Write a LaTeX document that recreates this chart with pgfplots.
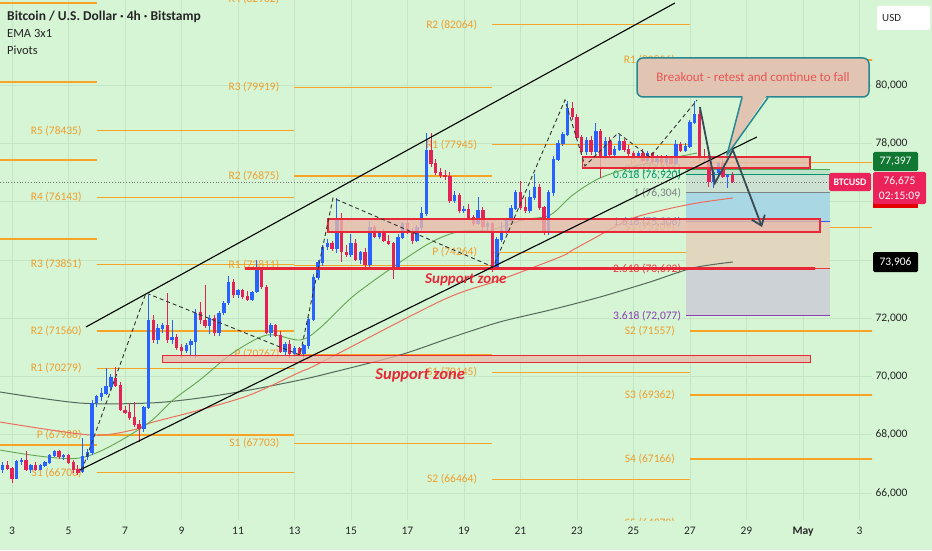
\documentclass[border=0pt]{standalone}
\usepackage{fontspec}
\setmainfont{Carlito}
\usepackage{pgfplots}
\pgfplotsset{compat=1.18}
\usepackage{pgfplotstable}
\usetikzlibrary{arrows.meta}
\definecolor{bg}{RGB}{213,245,213}
\definecolor{gridc}{RGB}{196,230,196}
\definecolor{cup}{RGB}{41,98,255}
\definecolor{cdn}{RGB}{228,34,88}
\definecolor{piv}{RGB}{246,163,38}
\definecolor{pivtxt}{RGB}{240,158,45}
\definecolor{emag}{RGB}{100,165,80}
\definecolor{emar}{RGB}{236,110,95}
\definecolor{emak}{RGB}{85,105,90}
\definecolor{zonered}{RGB}{232,40,55}
\definecolor{zonefill}{RGB}{232,185,170}
\definecolor{callfill}{RGB}{226,196,178}
\definecolor{callbrd}{RGB}{40,135,145}
\definecolor{calltxt}{RGB}{232,85,85}
\definecolor{arrowc}{RGB}{55,75,85}
\definecolor{fibg}{RGB}{70,170,90}
\definecolor{fibt}{RGB}{0,150,110}
\definecolor{fibgr}{RGB}{125,132,132}
\definecolor{fibb}{RGB}{60,90,230}
\definecolor{fibr}{RGB}{235,60,60}
\definecolor{fibp}{RGB}{140,60,180}
\definecolor{tagpink}{RGB}{235,35,90}
\definecolor{taggreen}{RGB}{16,120,50}

\newcommand{\pivfont}{\fontsize{11.5}{13}\selectfont}
\newcommand{\piv}[4]{%
 \addplot[piv, line width=1.2pt, forget plot] coordinates {(#1,#3) (#2,#3)};
 \node[anchor=east, text=pivtxt, font=\pivfont, inner sep=0pt, xshift=-15pt] at (axis cs:#1,#3) {#4};
}
\newcommand{\fibl}[3]{%
 \addplot[#2, line width=1pt, forget plot] coordinates {(146.2,#1) (176.7,#1)};
 \node[anchor=east, text=#2, font=\pivfont, inner sep=0pt, xshift=-5pt] at (axis cs:146.2,#1) {#3};
}

\pgfplotstableread{
n o h l c
1 66800 67050 66700 66960
4 66500 67130 66480 67080
5 67080 67200 66950 67130
7 66800 67000 66700 66950
9 66820 66980 66780 66930
10 66930 67100 66880 67060
11 67060 67350 67000 67300
12 67300 67480 67250 67420
14 67250 67350 67150 67300
18 66720 67900 66700 67240
19 67240 67500 67150 67380
20 67380 69200 67300 69090
21 69090 69350 68950 69300
22 69300 69600 69150 69430
23 69430 70300 69350 69650
24 69650 70100 69550 69950
31 68200 69000 68100 68950
32 68950 72800 68900 71940
34 71250 71800 71100 71660
35 71660 71850 71500 71760
37 71250 71940 71100 71350
40 70900 71150 70800 71080
41 71080 71300 70700 71200
42 71200 72300 70650 72180
45 71760 72100 71450 72000
47 71490 72250 71400 72180
48 72180 72600 72100 72520
49 72520 73450 72450 73240
51 72800 73000 72700 72950
54 72650 72950 72600 72900
55 72900 73990 72850 73650
58 71500 71850 71350 71750
61 70850 71200 70700 71100
63 70800 71050 70680 70950
65 70800 71100 70650 71050
66 71050 72050 70950 71950
67 71950 73500 71900 73400
68 73400 74000 73300 73900
69 73900 74500 73800 74440
70 74440 74700 74350 74550
72 74400 76120 74250 75370
75 74200 74900 74100 74550
77 74000 74300 73850 74250
79 73850 75350 73750 75100
81 74800 75000 74700 74900
85 73750 74900 73700 74780
86 74780 75300 74700 75250
89 74650 75200 74600 75100
90 75100 75800 75000 75600
91 75600 78350 75500 77750
97 76050 76350 75950 76200
99 75700 75850 75600 75720
102 75250 76150 75200 75700
104 75150 75350 75000 75250
106 73750 74800 73650 74700
107 74700 75300 74600 75000
108 75000 75450 74900 75350
109 75350 75900 75250 75750
110 75750 76400 75700 76300
113 75700 76400 75600 76150
114 76150 76950 76050 76500
117 74950 76400 74850 76300
118 76300 77550 76200 77450
119 77450 78100 77400 78000
120 78000 78400 77900 78300
121 78300 79450 78250 79200
125 77700 78200 77600 78100
127 77700 78700 77600 78400
129 77550 78200 77450 78050
131 77600 77900 77550 77800
132 77800 78300 77750 78050
136 77550 77750 77450 77650
138 77420 77750 77350 77650
140 77380 77600 77300 77550
142 77350 77600 77250 77500
144 77300 78100 77250 77950
146 77750 78000 77700 77900
147 77900 78800 77850 78700
148 78700 79450 78650 79000
152 76700 77100 76450 77000
153 77000 77350 76900 77300
155 76850 76950 76450 76900
}\upc

\pgfplotstableread{
n o h l c
2 66960 67100 66780 66850
3 66850 66900 66340 66500
6 67130 67430 66750 66800
8 66950 67050 66750 66820
13 67420 67480 67180 67250
15 67300 67350 67000 67050
16 67050 67150 66700 66800
17 66800 66950 66620 66720
25 69950 70330 69650 69700
26 69700 69800 68800 68850
27 68850 69000 68700 68750
28 68750 69100 68500 68600
29 68600 69120 68250 68350
30 68350 68500 67750 68200
33 71940 72100 71150 71250
36 71760 72860 71150 71250
38 71350 71450 70900 70980
39 70980 71100 70630 70900
43 72180 72550 71800 71940
44 71940 73140 71650 71760
46 72000 72100 71400 71490
50 73240 73350 72700 72800
52 72950 73000 72650 72730
53 72730 72950 72600 72650
56 73650 73700 73000 73070
57 73070 73150 71450 71500
59 71750 71800 71350 71420
60 71420 71550 70800 70850
62 71100 71250 70650 70800
64 70950 71000 70700 70800
71 74550 74650 74300 74400
73 75370 75600 73930 74270
74 74270 74500 74100 74200
76 74550 74700 73950 74000
78 74250 74400 73700 73850
80 75100 75200 74750 74800
82 74900 75050 74600 74650
83 74650 74850 74500 74550
84 74550 74600 73350 73750
87 75250 75400 74900 74950
88 74950 75100 74550 74650
92 77750 78350 77200 77300
93 77300 77450 76900 77000
94 77000 77150 76800 76900
95 76900 77100 76750 76850
96 76850 77000 75950 76050
98 76200 76300 75600 75700
100 75720 75900 75400 75450
101 75450 75550 75150 75250
103 75700 75800 75000 75150
105 75250 75300 73600 73750
111 76300 76700 75700 75800
112 75800 76150 75600 75700
115 76500 76600 75700 75800
116 75800 75850 74850 74950
122 79200 79400 78800 78900
123 78900 79000 78150 78200
124 78200 78300 77600 77700
126 78100 78250 77600 77700
128 78400 78500 76800 77550
130 78050 78200 77500 77600
133 78050 78150 77700 77800
134 77800 77950 77550 77650
135 77650 77750 77450 77550
137 77650 77800 77350 77420
139 77650 77700 77300 77380
141 77550 77600 77250 77350
143 77500 77550 77250 77300
145 77950 78050 77700 77750
149 79000 79150 77400 77550
150 77550 77800 77350 77500
151 77500 77600 76500 76700
154 77300 77450 76800 76850
156 76900 77000 76650 76675
}\dnc

\begin{document}
\begin{tikzpicture}
\path[use as bounding box, fill=bg] (0,-30pt) rectangle (932pt,520pt);
\begin{axis}[
  at={(0,0)}, anchor=south west,
  scale only axis, width=872pt, height=520pt,
  xmin=0.45, xmax=185.66, ymin=65075, ymax=82916,
  axis line style={draw=none},
  tick style={draw=none},
  xtick={3,15,...,183},
  xticklabels={3,5,7,9,11,13,15,17,19,21,23,25,27,29,\textbf{May},3},
  ytick={66000,68000,...,80000},
  yticklabels={{66,000},{68,000},{70,000},{72,000},{74,000},{76,000},{78,000},{80,000}},
  yticklabel pos=right,
  grid=major, major grid style={gridc, line width=0.6pt},
  ticklabel style={font=\fontsize{11.5}{13}\selectfont, text=black!85},
  xticklabel style={yshift=-4pt},
  clip=true,
]
% ---- pivot levels ----
\piv{0.45}{21}{82813}{}
\piv{0.45}{21}{80103}{}
\piv{0.45}{21}{77427}{}
\piv{0.45}{21}{74716}{}
\piv{0.45}{21}{67649}{}
\piv{21}{63}{78435}{R5 (78435)}
\piv{21}{63}{76143}{R4 (76143)}
\piv{21}{63}{73851}{R3 (73851)}
\piv{21}{63}{71560}{R2 (71560)}
\piv{21}{63}{70279}{R1 (70279)}
\piv{21}{63}{67988}{P (67988)}
\piv{21}{63}{66700}{S1 (66700)}
\piv{63}{105}{82962}{R4 (82962)}
\piv{63}{105}{79919}{R3 (79919)}
\piv{63}{105}{76875}{R2 (76875)}
\piv{63}{105}{73811}{R1 (73811)}
\piv{63}{105}{70767}{P (70767)}
\piv{63}{105}{67703}{S1 (67703)}
\piv{105}{147}{82064}{R2 (82064)}
\piv{105}{147}{77945}{R1 (77945)}
\piv{105}{147}{74264}{P (74264)}
\piv{105}{147}{70145}{S1 (70145)}
\piv{105}{147}{66464}{S2 (66464)}
\piv{147}{189}{80856}{R1 (80856)}
\piv{147}{189}{77332}{P (77332)}
\piv{147}{189}{75109}{S1 (75109)}
\piv{147}{189}{71557}{S2 (71557)}
\piv{147}{189}{69362}{S3 (69362)}
\piv{147}{189}{67166}{S4 (67166)}
\piv{147}{189}{64970}{S5 (64970)}
% ---- fib extension shading ----
\fill[fill={rgb,255:red,190;green,225;blue,200}] (axis cs:146.2,77111) rectangle (axis cs:176.7,76920);
\fill[fill={rgb,255:red,205;green,225;blue,210}] (axis cs:146.2,76920) rectangle (axis cs:176.7,76304);
\fill[fill={rgb,255:red,170;green,215;blue,228}] (axis cs:146.2,76304) rectangle (axis cs:176.7,75306);
\fill[fill={rgb,255:red,225;green,215;blue,190}] (axis cs:146.2,75306) rectangle (axis cs:176.7,73692);
\fill[fill={rgb,255:red,205;green,210;blue,215}] (axis cs:146.2,73692) rectangle (axis cs:176.7,72077);
\fibl{77111}{fibg}{0.5 (77,111)}
\fibl{76920}{fibt}{0.618 (76,920)}
\fibl{76304}{fibgr}{1 (76,304)}
\fibl{75306}{fibb}{1.618 (75,306)}
\fibl{73692}{fibr}{2.618 (73,692)}
\fibl{72077}{fibp}{3.618 (72,077)}
% ---- current price line ----
\addplot[black!55, dotted, line width=0.8pt, forget plot] coordinates {(0.45,76675) (176.7,76675)};
% ---- EMAs ----
\addplot[emak, line width=1pt, smooth, forget plot] coordinates {(0.45,69467) (17.4,69089) (32.3,69089) (42.9,69261) (53.5,69536) (64.2,69879) (70.5,70119) (85.4,70736) (96.0,71320) (106.6,71869) (117.3,72280) (127.9,72726) (138.5,73241) (147.6,73722) (156.1,73927)};
\addplot[emar, line width=1pt, smooth, forget plot] coordinates {(0.45,68437) (19.6,67991) (28.7,68163) (32.3,68403) (42.9,68849) (53.5,69364) (64.2,70153) (68.4,70462) (94.5,72623) (106.6,73310) (119.4,74100) (122.1,74339) (127.3,74800) (134.3,75400) (141.3,75711) (148.5,75951) (156.1,76123)};
\addplot[emag, line width=0.9pt, smooth, forget plot] coordinates {(0.45,67477) (17.4,67202) (30.8,68266) (37.2,69192) (42.9,69879) (49.9,70805) (57.2,71423) (64.2,71251) (68.4,71663) (76.3,72863) (90.3,74441) (97.5,74956) (104.5,75025) (111.5,75368) (117.3,75539) (122.1,76226) (127.9,76809) (136.4,77255) (148.5,77667)};
% ---- candles: wicks ----
\addplot[draw=none, mark=none, forget plot, error bars/.cd, y dir=both, y explicit, error mark=none, error bar style={draw=cup, line width=1pt}]
  table[x=n, y expr={(\thisrow{h}+\thisrow{l})/2}, y error plus expr={(\thisrow{h}-\thisrow{l})/2}, y error minus expr={(\thisrow{h}-\thisrow{l})/2}] {\upc};
\addplot[draw=none, mark=none, forget plot, error bars/.cd, y dir=both, y explicit, error mark=none, error bar style={draw=cdn, line width=1pt}]
  table[x=n, y expr={(\thisrow{h}+\thisrow{l})/2}, y error plus expr={(\thisrow{h}-\thisrow{l})/2}, y error minus expr={(\thisrow{h}-\thisrow{l})/2}] {\dnc};
% ---- candles: bodies ----
\addplot[draw=none, mark=none, forget plot, error bars/.cd, y dir=both, y explicit, error mark=none, error bar style={draw=cup, line width=3.4pt}]
  table[x=n, y expr={(\thisrow{o}+\thisrow{c})/2}, y error plus expr={(\thisrow{c}-\thisrow{o})/2+15}, y error minus expr={(\thisrow{c}-\thisrow{o})/2+15}] {\upc};
\addplot[draw=none, mark=none, forget plot, error bars/.cd, y dir=both, y explicit, error mark=none, error bar style={draw=cdn, line width=3.4pt}]
  table[x=n, y expr={(\thisrow{o}+\thisrow{c})/2}, y error plus expr={(\thisrow{o}-\thisrow{c})/2+15}, y error minus expr={(\thisrow{o}-\thisrow{c})/2+15}] {\dnc};
% ---- zones ----
\draw[zonered, line width=1.3pt, fill=zonefill, fill opacity=0.75] (axis cs:34.9,70720) rectangle (axis cs:172.6,70490);
\draw[zonered, line width=1.3pt, fill=zonefill, fill opacity=0.8] (axis cs:70.1,75402) rectangle (axis cs:174.6,74956);
\draw[zonered, line width=1.3pt, fill=zonefill, fill opacity=0.8] (axis cs:124.1,77530) rectangle (axis cs:172.5,77153);
\draw[zonered, line width=3pt] (axis cs:52.5,73721) -- (axis cs:173.6,73721);
% ---- channel ----
\draw[black, line width=1.1pt] (axis cs:18.7,71697) -- (axis cs:143.8,82813);
\draw[black, line width=1.1pt] (axis cs:17.4,66790) -- (axis cs:161.2,78216);
\draw[black!80, line width=0.9pt, dash pattern=on 4pt off 3pt] (axis cs:17.86,66790) -- (axis cs:31.46,72863) -- (axis cs:64.17,70736) -- (axis cs:71.18,76123) -- (axis cs:105.2,73756) -- (axis cs:120.45,79485) -- (axis cs:124.7,77221) -- (axis cs:131.7,78353) -- (axis cs:138.5,77530) -- (axis cs:148.5,79485);
% ---- projection arrow ----
\draw[arrowc, line width=1.8pt, -{Straight Barb[length=9pt,width=14pt]}] (axis cs:149.1,79245) -- (axis cs:152.3,76637) -- (axis cs:156.1,77770) -- (axis cs:162.3,75128);
% ---- texts ----
\node[text=zonered, font=\fontsize{15}{17}\selectfont\bfseries\itshape] at (axis cs:99.4,73310) {Support zone};
\node[text=zonered, font=\fontsize{16.5}{18}\selectfont\bfseries\itshape] at (axis cs:89.7,70050) {Support zone};
\end{axis}
% ---- overlay in pixel coordinates ----
\begin{scope}[x=1pt, y=-1pt, shift={(0pt,520pt)}]
\node[anchor=west, inner sep=0pt, font=\fontsize{13.5}{15}\selectfont\bfseries, text=black!85] at (7,17) {Bitcoin / U.S. Dollar · 4h · Bitstamp};
\node[anchor=west, inner sep=0pt, font=\fontsize{12.5}{14}\selectfont, text=black!85] at (7,33) {EMA 3x1};
\node[anchor=west, inner sep=0pt, font=\fontsize{12.5}{14}\selectfont, text=black!85] at (7,50) {Pivots};
% callout
\draw[fill=callfill, draw=callbrd, line width=1.5pt, rounded corners=6pt] (637,58) rectangle (869,97);
\fill[callfill] (743,95) -- (767,95) -- (727,155) -- cycle;
\draw[callbrd, line width=1.5pt, line join=round] (742,97.5) -- (727,155) -- (768,97.5);
\node[text=calltxt, font=\fontsize{13}{15}\selectfont] at (753,77) {Breakout - retest and continue to fall};
% price scale tags
\fill[white, rounded corners=2pt] (877,6) rectangle (930,30);
\node[anchor=west, inner sep=0pt, font=\fontsize{11}{13}\selectfont, text=black!85] at (882,18) {USD};
\fill[taggreen, rounded corners=1.5pt] (873,152) rectangle (918,171);
\node[text=white, font=\fontsize{11.5}{13}\selectfont] at (895.5,161.5) {77,397};
\fill[tagpink, rounded corners=1.5pt] (829,173) rectangle (871,191);
\node[text=white, font=\fontsize{10}{12}\selectfont\bfseries] at (850,182) {BTCUSD};
\fill[red!90!black] (873,200) rectangle (918,208);
\fill[tagpink, rounded corners=1.5pt] (873,172) rectangle (926,204);
\node[text=white, font=\fontsize{11.5}{13}\selectfont] at (899.5,181) {76,675};
\node[text=white, font=\fontsize{11.5}{13}\selectfont] at (899.5,196) {02:15:09};
\fill[black, rounded corners=1.5pt] (873,252) rectangle (918,272);
\node[text=white, font=\fontsize{11.5}{13}\selectfont] at (895.5,262) {73,906};
\end{scope}
\end{tikzpicture}
\end{document}
